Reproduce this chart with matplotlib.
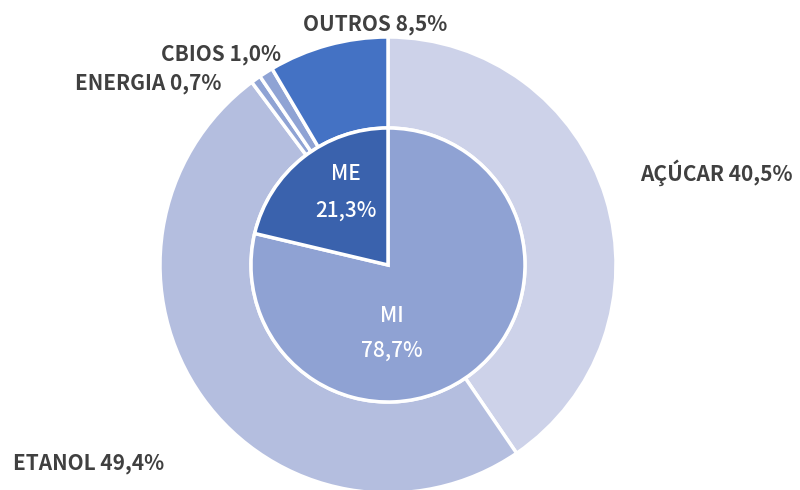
import matplotlib
matplotlib.use('Agg')
import matplotlib.pyplot as plt

plt.rcParams['font.family'] = ['Noto Sans CJK JP', 'DejaVu Sans']

outerLabels = ['AÇÚCAR', 'ETANOL', 'ENERGIA', 'CBIOS', 'OUTROS']
outerValues = [40.5, 49.4, 0.7, 1.0, 8.5]
outerColors = ['#CDD2E9', '#B4BEDF', '#8FA3D4', '#8FA3D4', '#4472C4']

innerLabels = ['MI', 'ME']
innerValues = [78.7, 21.3]
innerColors = ['#8FA2D3', '#3A62AD']

def fmt(v):
    return ('%.1f%%' % v).replace('.', ',')

def main():
    fig = plt.figure(figsize=(8, 4.9), dpi=100)
    ax = fig.add_axes([0, 0, 1, 1])

    cx, cy = 388, 225
    rOuter, rInner = 228, 137

    ax.pie(outerValues, radius=rOuter, center=(cx, cy), startangle=90,
           counterclock=False, colors=outerColors, frame=True,
           wedgeprops=dict(width=rOuter - rInner, edgecolor='white', linewidth=2.5))
    ax.pie(innerValues, radius=rInner, center=(cx, cy), startangle=90,
           counterclock=False, colors=innerColors, frame=True,
           wedgeprops=dict(edgecolor='white', linewidth=2.5))
    ax.set_xlim(0, 800)
    ax.set_ylim(0, 490)
    ax.set_aspect('auto')
    ax.axis('off')

    # outer labels (pixel positions from top-left)
    outerPos = [(716, 173), (89, 463), (148, 84), (221, 55), (375, 25)]
    for lab, v, (x, y) in zip(outerLabels, outerValues, outerPos):
        ax.text(x, 490 - y, lab + ' ' + fmt(v), ha='center', va='center',
                fontsize=15, fontweight='bold', color='#404040')

    # inner labels
    innerPos = [(392, 316, 351), (346, 174, 211)]
    for lab, v, (x, y1, y2) in zip(innerLabels, innerValues, innerPos):
        ax.text(x, 490 - y1, lab, ha='center', va='center', fontsize=15,
                fontweight='medium', color='white')
        ax.text(x, 490 - y2, fmt(v), ha='center', va='center', fontsize=15,
                fontweight='medium', color='white')

    fig.savefig('out.png', dpi=100)

if __name__ == '__main__':
    main()
